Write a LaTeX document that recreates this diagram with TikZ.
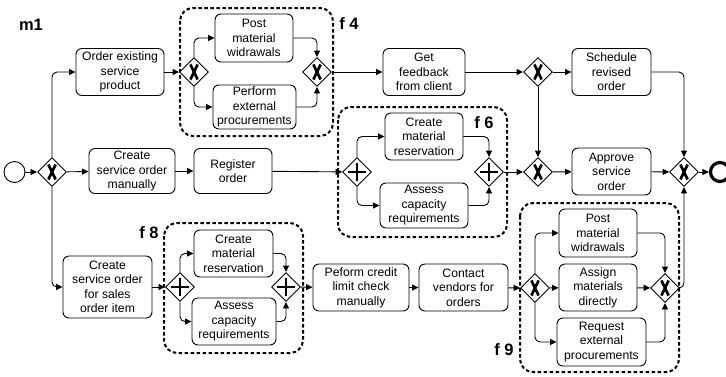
\documentclass[tikz,border=0pt]{standalone}
\usepackage{fontspec}
\setmainfont{Liberation Sans}
\usetikzlibrary{shapes.geometric,arrows.meta}
\begin{document}
\begin{tikzpicture}[x=1pt,y=-1pt,
  task/.style={draw, line width=0.9pt, rounded corners=6pt, align=center, inner sep=0pt,
    font=\fontsize{12.2}{14.5}\selectfont},
  gw/.style={draw, line width=0.9pt, diamond, minimum width=29pt, minimum height=29pt, inner sep=0pt, fill=white},
  xgw/.style={gw, path picture={
    \draw[line width=2.7pt] ([xshift=-3.6pt,yshift=-7.5pt]path picture bounding box.center) -- ([xshift=3.6pt,yshift=7.5pt]path picture bounding box.center);
    \draw[line width=2.7pt] ([xshift=3.6pt,yshift=-7.5pt]path picture bounding box.center) -- ([xshift=-3.6pt,yshift=7.5pt]path picture bounding box.center);}},
  pgw/.style={gw, path picture={
    \draw[line width=2.3pt] ([xshift=-9pt]path picture bounding box.center) -- ([xshift=9pt]path picture bounding box.center);
    \draw[line width=2.3pt] ([yshift=-9pt]path picture bounding box.center) -- ([yshift=9pt]path picture bounding box.center);}},
  flow/.style={line width=0.9pt, rounded corners=5pt, -{Triangle[length=6.5pt,width=6pt]}},
  grp/.style={line width=2pt, dash pattern=on 3.5pt off 2.5pt, rounded corners=13pt},
  lbl/.style={font=\fontsize{16.5}{18}\selectfont\bfseries, inner sep=0pt}
]
\useasboundingbox (0,0) rectangle (726,376);

% groups
\draw[grp] (180,8) rectangle (333,136);
\draw[grp] (338,107) rectangle (507,237);
\draw[grp] (164,223) rectangle (303,353);
\draw[grp] (520,203) rectangle (679,372);

% labels
\node[lbl] (m1) at (31,25) {m1};
\node[lbl] (f4) at (349,24) {f 4};
\node[lbl] (f6) at (484,123) {f 6};
\node[lbl] (f8) at (149,233) {f 8};
\node[lbl] (f9) at (504,350) {f 9};

% events
\node[draw, circle, line width=0.9pt, minimum size=21pt, inner sep=0pt] (start) at (14.5,172) {};
\node[draw, circle, line width=3.2pt, minimum size=19pt, inner sep=0pt] (end) at (720,172) {};

% gateways
\node[xgw] (g1) at (52,172) {};
\node[xgw] (f4s) at (194,72) {};
\node[xgw] (f4j) at (317,72) {};
\node[xgw] (g2) at (538,72) {};
\node[pgw] (f6s) at (357,172) {};
\node[pgw] (f6j) at (489,172) {};
\node[xgw] (g3) at (538,172) {};
\node[xgw] (gend) at (684,172) {};
\node[pgw] (f8s) at (180,287) {};
\node[pgw] (f8j) at (286,287) {};
\node[xgw] (f9s) at (535,288) {};
\node[xgw] (f9j) at (665,288) {};

% tasks
\node[task, minimum width=88pt, minimum height=47pt] (oesp) at (120,72) {Order existing\\service\\product};
\node[task, minimum width=78pt, minimum height=48pt] (pmw1) at (254,38) {Post\\material\\widrawals};
\node[task, minimum width=83pt, minimum height=44pt] (pep1) at (254.5,107) {Perform\\external\\procurements};
\node[task, minimum width=82pt, minimum height=47pt] (gfc) at (424,72) {Get\\feedback\\from client};
\node[task, minimum width=79pt, minimum height=47pt] (sro) at (611.5,72) {Schedule\\revised\\order};
\node[task, minimum width=86pt, minimum height=45pt] (csom) at (132,171) {Create\\service order\\manually};
\node[task, minimum width=78pt, minimum height=45pt] (ro) at (233,171) {Register\\order};
\node[task, minimum width=78pt, minimum height=47pt] (cmr6) at (424,136.5) {Create\\material\\reservation};
\node[task, minimum width=88pt, minimum height=45pt] (acr6) at (424,205.5) {Assess\\capacity\\requirements};
\node[task, minimum width=79pt, minimum height=47pt] (aso) at (611.5,171.5) {Approve\\service\\order};
\node[task, minimum width=89pt, minimum height=62pt] (csosoi) at (107.5,287) {Create\\service order\\for sales\\order item};
\node[task, minimum width=79pt, minimum height=47pt] (cmr8) at (233.5,253.5) {Create\\material\\reservation};
\node[task, minimum width=84pt, minimum height=47pt] (acr8) at (234,321.5) {Assess\\capacity\\requirements};
\node[task, minimum width=96pt, minimum height=47pt] (pcl) at (361,287.5) {Peform credit\\limit check\\manually};
\node[task, minimum width=89pt, minimum height=47pt] (cvo) at (463.5,287.5) {Contact\\vendors for\\orders};
\node[task, minimum width=78pt, minimum height=48pt] (pmw9) at (598,233) {Post\\material\\widrawals};
\node[task, minimum width=78pt, minimum height=47pt] (amd) at (598,287.5) {Assign\\materials\\directly};
\node[task, minimum width=89pt, minimum height=48pt] (reps) at (601.5,342) {Request\\external\\procurements};

% flows
\draw[flow] (start) -- (g1);
\draw[flow] (g1.north) |- (oesp.west);
\draw[flow] (g1) -- (csom);
\draw[flow] (g1.south) |- (csosoi.west);
\draw[flow] (oesp) -- (f4s);
\draw[flow] (f4s.north) |- (pmw1.west);
\draw[flow] (f4s.south) |- (pep1.west);
\draw[flow] (pmw1.east) -| (f4j.north);
\draw[flow] (pep1.east) -| (f4j.south);
\draw[flow] (f4j) -- (gfc);
\draw[flow] (gfc) -- (g2);
\draw[flow] (g2) -- (sro);
\draw[flow] (g2) -- (g3);
\draw[flow] (sro.east) -| (gend.north);
\draw[flow] (csom) -- (ro);
\draw[flow] (ro) -- (f6s);
\draw[flow] (f6s.north) |- (cmr6.west);
\draw[flow] (f6s.south) |- (acr6.west);
\draw[flow] (cmr6.east) -| (f6j.north);
\draw[flow] (acr6.east) -| (f6j.south);
\draw[flow] (f6j) -- (g3);
\draw[flow] (g3) -- (aso);
\draw[flow] (aso) -- (gend);
\draw[flow] (gend) -- (end);
\draw[flow] (csosoi) -- (f8s);
\draw[flow] (f8s.north) |- (cmr8.west);
\draw[flow] (f8s.south) |- (acr8.west);
\draw[flow] (cmr8.east) -| (f8j.north);
\draw[flow] (acr8.east) -| (f8j.south);
\draw[flow] (f8j) -- (pcl);
\draw[flow] (pcl) -- (cvo);
\draw[flow] (cvo) -- (f9s);
\draw[flow] (f9s.north) |- (pmw9.west);
\draw[flow] (f9s) -- (amd);
\draw[flow] (f9s.south) |- (reps.west);
\draw[flow] (pmw9.east) -| (f9j.north);
\draw[flow] (amd) -- (f9j);
\draw[flow] (reps.east) -| (f9j.south);
\draw[flow] (f9j.east) -| (gend.south);
\end{tikzpicture}
\end{document}
